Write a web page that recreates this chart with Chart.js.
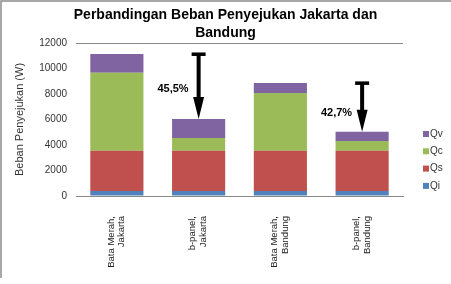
<!DOCTYPE html>
<html>
<head>
<meta charset="utf-8">
<script src="https://cdn.jsdelivr.net/npm/chart.js@4"></script>
<style>
html, body { margin: 0; padding: 0; background: #fff; }
#wrap { width: 451px; height: 284px; }
</style>
</head>
<body>
<div id="wrap"><canvas id="chart" width="451" height="284"></canvas></div>
<script>
// data
const categories = [['Bata Merah,', 'Jakarta'], ['b-panel,', 'Jakarta'], ['Bata Merah,', 'Bandung'], ['b-panel,', 'Bandung']];
const qiValues = [400, 400, 400, 400];
const qsValues = [3150, 3150, 3150, 3150];
const qcValues = [6120, 1000, 4530, 760];
const qvValues = [1470, 1490, 790, 730];
const yMin = 0;
const yMax = 12000;
const yStep = 2000;
const reductionLabels = ['45,5%', '42,7%'];

const FONT = "'Liberation Sans', Arial, sans-serif";

function stackTotal(i) {
    return qiValues[i] + qsValues[i] + qcValues[i] + qvValues[i];
}

// grey frame around the chart
const framePlugin = {
    id: 'frame',
    beforeDraw(chart) {
        const ctx = chart.ctx;
        ctx.save();
        ctx.fillStyle = '#fff';
        ctx.fillRect(0, 0, chart.width, chart.height);
        ctx.strokeStyle = '#8c8c8c';
        ctx.lineWidth = 1.5;
        ctx.beginPath();
        ctx.moveTo(1, 278);
        ctx.lineTo(1, 1);
        ctx.lineTo(chart.width, 1);
        ctx.stroke();
        ctx.restore();
    }
};

// legend on the right, top series first
const legendPlugin = {
    id: 'sideLegend',
    afterDraw(chart) {
        const ctx = chart.ctx;
        const sets = chart.data.datasets.slice().reverse();
        ctx.save();
        ctx.font = '10px ' + FONT;
        ctx.textBaseline = 'middle';
        sets.forEach((ds, i) => {
            const y = 134 + i * 17.3;
            ctx.fillStyle = ds.backgroundColor;
            ctx.fillRect(423, y - 3, 6, 6);
            ctx.fillStyle = '#333';
            ctx.fillText(ds.label, 430, y);
        });
        ctx.restore();
    }
};

// reduction arrows between the stacks
const arrowPlugin = {
    id: 'arrows',
    afterDatasetsDraw(chart) {
        const ctx = chart.ctx;
        const xs = chart.scales.x;
        const ys = chart.scales.y;
        const pairs = [[0, 1], [2, 3]];
        const labelLevels = [8400, 6500];
        ctx.save();
        pairs.forEach(([from, to], k) => {
            const x = xs.getPixelForValue(to);
            const yTop = ys.getPixelForValue(stackTotal(from));
            const yTip = ys.getPixelForValue(stackTotal(to));
            ctx.fillStyle = '#000';
            // T bar
            ctx.fillRect(x - 7, yTop - 1.5, 14, 3.5);
            // shaft
            ctx.fillRect(x - 2, yTop, 4, (yTip - 22) - yTop + 1);
            // head
            ctx.beginPath();
            ctx.moveTo(x - 5.5, yTip - 22);
            ctx.lineTo(x + 5.5, yTip - 22);
            ctx.lineTo(x, yTip);
            ctx.closePath();
            ctx.fill();
            // label
            ctx.font = 'bold 11px ' + FONT;
            ctx.textAlign = 'right';
            ctx.textBaseline = 'middle';
            ctx.fillText(reductionLabels[k], x - 10, ys.getPixelForValue(labelLevels[k]));
        });
        ctx.restore();
    }
};

const ctx = document.getElementById('chart').getContext('2d');
new Chart(ctx, {
    type: 'bar',
    data: {
        labels: categories,
        datasets: [
            { label: 'Qi', data: qiValues, backgroundColor: '#4F81BD' },
            { label: 'Qs', data: qsValues, backgroundColor: '#C0504D' },
            { label: 'Qc', data: qcValues, backgroundColor: '#9BBB59' },
            { label: 'Qv', data: qvValues, backgroundColor: '#8064A2' }
        ]
    },
    options: {
        responsive: false,
        animation: false,
        datasets: {
            bar: { categoryPercentage: 1, barPercentage: 0.65, borderWidth: 0 }
        },
        layout: { padding: 0 },
        plugins: {
            legend: { display: false },
            tooltip: { enabled: false },
            title: {
                display: true,
                text: ['Perbandingan Beban Penyejukan Jakarta dan', 'Bandung'],
                color: '#000',
                font: { family: FONT, size: 14, weight: 'bold', lineHeight: 1.25 },
                padding: { top: 6.75, bottom: 1.25 }
            }
        },
        scales: {
            x: {
                stacked: true,
                grid: { display: false },
                border: { display: true, color: '#888', width: 1 },
                ticks: {
                    color: '#222',
                    font: { family: FONT, size: 9.5, lineHeight: 1.15 },
                    minRotation: 90,
                    maxRotation: 90,
                    padding: 12,
                    labelOffset: -6,
                    autoSkip: false
                },
                afterFit(scale) { scale.height = 88; }
            },
            y: {
                stacked: true,
                min: yMin,
                max: yMax,
                border: { display: false },
                grid: {
                    drawTicks: false,
                    color: c => (c.tick && (c.tick.value === yMax || c.tick.value === yMin)) ? '#888' : 'rgba(0,0,0,0)'
                },
                ticks: {
                    stepSize: yStep,
                    color: '#333',
                    padding: 9,
                    font: { family: FONT, size: 10 },
                    callback: v => String(v)
                },
                title: {
                    display: true,
                    text: 'Beban Penyejukan (W)',
                    color: '#333',
                    font: { family: FONT, size: 11 },
                    padding: { top: 13, bottom: 0 }
                },
                afterFit(scale) { scale.width = 76; }
            },
            // empty right-hand box that leaves room for the legend
            legendRoom: {
                type: 'linear',
                position: 'right',
                display: true,
                grid: { display: false },
                border: { display: false },
                ticks: { display: false },
                afterFit(scale) { scale.width = 48; }
            }
        }
    },
    plugins: [framePlugin, legendPlugin, arrowPlugin]
});
</script>
</body>
</html>
